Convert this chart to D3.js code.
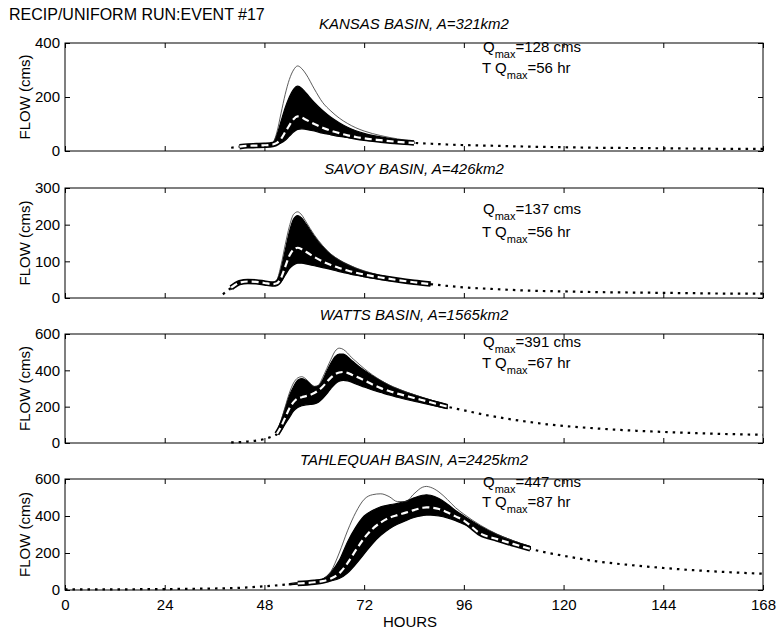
<!DOCTYPE html>
<html>
<head>
<meta charset="utf-8">
<script src="https://cdn.jsdelivr.net/npm/d3@7"></script>
<style>
  body { margin: 0; background: #fff; }
  svg text { font-family: "Liberation Sans", Arial, sans-serif; fill: #000; }
  .tick line { stroke: #000; }
</style>
</head>
<body>
<div class="chart"></div>
<script>
// basins, top to bottom
var basinNames = ["KANSAS", "SAVOY", "WATTS", "TAHLEQUAH"];
var basinAreas = ["321km2", "426km2", "1565km2", "2425km2"];
var qmaxValues = [128, 137, 391, 447];
var tqmaxValues = [56, 56, 67, 87];
var yTickValues = [[0, 200, 400], [0, 100, 200, 300], [0, 200, 400, 600], [0, 200, 400, 600]];
var xTickValues = [0, 24, 48, 72, 96, 120, 144, 168];

// kansas
var kansasHours = [40,42,44,46,48,50,51,52,53,54,55,56,57,58,60,62,64,66,68,70,72,76,80,84,88,92,96,104,112,120,128,136,144,152,160,168];
var kansasMean  = [12,16,19,20,21,24,30,45,70,95,118,128,124,116,100,86,75,66,58,52,47,40,34,30,27,24,22,19,16,14,12,11,10,9,8,8];
var kansasBandHours = [42,44,46,48,50,51,52,53,54,55,56,57,58,60,62,64,66,68,70,72,76,80,84];
var kansasHigh = [18,21,22,23,30,60,110,160,200,228,240,232,215,180,150,125,105,88,75,65,52,42,34];
var kansasLow  = [14,17,18,19,20,24,30,40,55,70,80,82,80,74,66,60,54,50,46,42,36,31,28];
var kansasTop  = [18,21,22,23,30,70,140,210,265,300,315,305,285,230,180,148,122,102,86,74,57,45,36];

// savoy
var savoyHours = [38,40,41,42,44,46,48,50,51,52,53,54,55,56,57,58,60,62,64,66,68,70,72,76,80,84,88,92,96,104,112,120,128,136,144,152,160,168];
var savoyMean  = [10,28,36,42,45,44,41,38,40,55,85,115,132,137,133,126,112,100,90,82,75,69,64,56,49,43,38,33,29,24,20,18,16,15,14,13,12,12];
var savoyBandHours = [40,41,42,44,46,48,50,51,52,53,54,55,56,57,58,60,62,64,66,68,70,72,76,80,84,88];
var savoyHigh = [32,40,46,49,48,45,42,48,80,130,180,215,225,218,202,168,140,118,103,91,81,73,61,52,45,40];
var savoyLow  = [24,32,38,41,40,37,34,36,45,62,80,90,95,95,93,88,83,78,72,67,62,58,51,45,40,36];
var savoyTop  = [32,40,46,49,48,45,42,50,90,145,195,228,235,226,208,172,143,120,104,92,82,74,62,53,46,40];

// watts
var wattsHours = [40,44,48,50,51,52,53,54,55,56,57,58,59,60,61,62,63,64,65,66,67,68,69,70,72,74,76,78,80,84,88,92,96,100,104,108,112,116,120,128,136,144,152,160,168];
var wattsMean  = [3,8,22,38,50,90,140,190,225,245,252,258,265,275,290,310,335,360,378,388,391,386,376,366,345,322,302,286,272,248,224,200,180,160,143,128,115,103,94,80,69,61,54,49,45];
var wattsBandHours = [51,52,53,54,55,56,57,58,59,60,61,62,63,64,65,66,67,68,69,70,72,74,76,78,80,84,88,92];
var wattsHigh = [60,120,190,260,310,345,355,345,325,310,315,345,395,440,475,490,490,475,455,435,400,370,342,318,298,265,236,210];
var wattsLow  = [45,70,105,140,175,195,205,210,212,215,225,245,270,300,325,340,345,342,335,325,308,292,278,264,252,230,210,190];
var wattsTop  = [60,125,200,275,330,358,365,352,330,312,318,360,410,460,505,522,515,495,470,450,410,375,345,320,300,266,237,210];

// tahlequah
var tahlHours = [0,8,16,24,32,40,44,48,52,56,60,62,64,66,68,70,72,74,76,78,80,82,84,86,87,88,90,92,94,96,100,104,108,112,116,120,128,136,144,152,160,168];
var tahlMean  = [3,3,4,5,7,10,14,20,27,35,42,48,62,90,145,215,280,330,365,390,405,418,432,444,447,446,438,420,398,375,305,275,248,222,202,185,155,135,119,106,96,88];
var tahlBandHours = [54,56,58,60,62,64,66,68,70,72,74,76,78,80,82,84,86,87,88,90,92,94,96,100,104,108,112];
var tahlHigh = [34,40,44,46,58,95,160,260,340,400,430,450,460,468,480,498,512,515,512,495,465,430,400,345,300,265,235];
var tahlLow  = [28,32,36,40,42,50,62,92,140,195,250,295,330,355,375,392,402,405,405,400,390,375,355,315,282,252,225];
var tahlTop  = [34,40,44,46,58,100,200,320,420,490,515,520,505,478,478,520,555,560,555,530,490,445,410,350,302,265,235];

var panels = [
  {hours: kansasHours, mean: kansasMean, band: kansasBandHours, high: kansasHigh, low: kansasLow, top: kansasTop,
   y0: 43, h: 108, ymax: 400, qy: 52, ty: 73},
  {hours: savoyHours, mean: savoyMean, band: savoyBandHours, high: savoyHigh, low: savoyLow, top: savoyTop,
   y0: 188, h: 110, ymax: 300, qy: 214, ty: 237},
  {hours: wattsHours, mean: wattsMean, band: wattsBandHours, high: wattsHigh, low: wattsLow, top: wattsTop,
   y0: 334, h: 109, ymax: 600, qy: 347, ty: 368},
  {hours: tahlHours, mean: tahlMean, band: tahlBandHours, high: tahlHigh, low: tahlLow, top: tahlTop,
   y0: 479, h: 111, ymax: 600, qy: 487, ty: 507}
];

var width = 779, height = 633;
var left = 65, right = 763;

var svg = d3.select(".chart").append("svg")
    .attr("width", width)
    .attr("height", height);

var x = d3.scaleLinear().domain([0, 168]).range([left, right]);

svg.append("text")
    .attr("x", 9)
    .attr("y", 20)
    .style("font-size", "16px")
    .text("RECIP/UNIFORM RUN:EVENT #17");

function drawPanel(p, i) {
  var y = d3.scaleLinear().domain([0, p.ymax]).range([p.y0 + p.h, p.y0]);
  var g = svg.append("g");

  // title
  g.append("text")
      .attr("x", (left + right) / 2)
      .attr("y", p.y0 - 14)
      .attr("text-anchor", "middle")
      .style("font-size", "15px")
      .style("font-style", "italic")
      .text(basinNames[i] + " BASIN, A=" + basinAreas[i]);

  // ensemble band
  var bandData = p.band.map(function(h, k) { return {h: h, hi: p.high[k], lo: p.low[k], top: p.top[k]}; });
  var area = d3.area()
      .x(function(d) { return x(d.h); })
      .y0(function(d) { return y(d.lo); })
      .y1(function(d) { return y(d.hi); })
      .curve(d3.curveMonotoneX);
  g.append("path")
      .datum(bandData)
      .attr("d", area)
      .style("fill", "#000")
      .style("stroke", "#000")
      .style("stroke-width", 1.2);

  var topline = d3.line()
      .x(function(d) { return x(d.h); })
      .y(function(d) { return y(d.top); })
      .curve(d3.curveMonotoneX);
  g.append("path")
      .datum(bandData)
      .attr("d", topline)
      .style("fill", "none")
      .style("stroke", "#333")
      .style("stroke-width", 0.8);

  // mean run
  var meanData = p.hours.map(function(h, k) { return {h: h, q: p.mean[k]}; });
  var meanline = d3.line()
      .x(function(d) { return x(d.h); })
      .y(function(d) { return y(d.q); })
      .curve(d3.curveMonotoneX);
  g.append("path")
      .datum(meanData)
      .attr("d", meanline)
      .style("fill", "none")
      .style("stroke", "#000")
      .style("stroke-width", 2.2)
      .style("stroke-dasharray", "2.5,5");

  var b0 = p.band[0], b1 = p.band[p.band.length - 1];
  var inBand = meanData.filter(function(d) { return d.h >= b0 && d.h <= b1; });
  g.append("path")
      .datum(inBand)
      .attr("d", meanline)
      .style("fill", "none")
      .style("stroke", "#000")
      .style("stroke-width", 5.5);
  g.append("path")
      .datum(inBand)
      .attr("d", meanline)
      .style("fill", "none")
      .style("stroke", "#fff")
      .style("stroke-width", 2.2)
      .style("stroke-dasharray", "7,4");

  // frame + ticks
  g.append("rect")
      .attr("x", left)
      .attr("y", p.y0)
      .attr("width", right - left)
      .attr("height", p.h)
      .style("fill", "none")
      .style("stroke", "#000")
      .style("stroke-width", 1);

  var ya = g.append("g")
      .attr("transform", "translate(" + left + ",0)")
      .call(d3.axisLeft(y).tickValues(yTickValues[i]).tickSize(-5).tickPadding(5));
  ya.selectAll("text").style("font-size", "15px");
  ya.select(".domain").remove();

  var yr = g.append("g")
      .attr("transform", "translate(" + right + ",0)")
      .call(d3.axisRight(y).tickValues(yTickValues[i]).tickSize(-5).tickFormat(""));
  yr.select(".domain").remove();

  var xt = g.append("g")
      .attr("transform", "translate(0," + p.y0 + ")")
      .call(d3.axisTop(x).tickValues(xTickValues).tickSize(-5).tickFormat(""));
  xt.select(".domain").remove();

  var xb = g.append("g")
      .attr("transform", "translate(0," + (p.y0 + p.h) + ")")
      .call(d3.axisBottom(x).tickValues(xTickValues).tickSize(-5).tickPadding(9)
        .tickFormat(i == panels.length - 1 ? d3.format("d") : ""));
  xb.selectAll("text").style("font-size", "15px");
  xb.select(".domain").remove();

  // y label
  g.append("text")
      .attr("transform", "translate(30," + (p.y0 + p.h / 2) + ") rotate(-90)")
      .attr("text-anchor", "middle")
      .style("font-size", "15px")
      .text("FLOW (cms)");

  // Qmax notes
  var q = g.append("text")
      .attr("x", 483)
      .attr("y", p.qy)
      .style("font-size", "15px");
  q.append("tspan").text("Q");
  q.append("tspan").attr("dy", 6).style("font-size", "11px").text("max");
  q.append("tspan").attr("dy", -6).text("=" + qmaxValues[i] + " cms");

  var t = g.append("text")
      .attr("x", 482)
      .attr("y", p.ty)
      .style("font-size", "15px");
  t.append("tspan").text("T Q");
  t.append("tspan").attr("dy", 6).style("font-size", "11px").text("max");
  t.append("tspan").attr("dy", -6).text("=" + tqmaxValues[i] + " hr");
}

panels.forEach(drawPanel);

svg.append("text")
    .attr("x", 410)
    .attr("y", 627)
    .attr("text-anchor", "middle")
    .style("font-size", "15px")
    .text("HOURS");
</script>
</body>
</html>
